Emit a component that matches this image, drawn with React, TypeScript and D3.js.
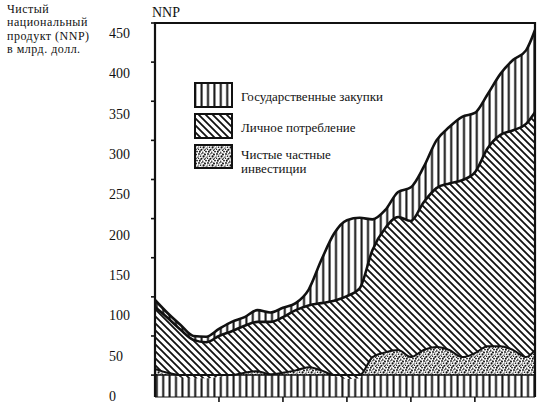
import React from "react";
import * as d3 from "d3";

// ---- data, billions of dollars ----
const years = [
  1929, 1930, 1931, 1932, 1933, 1934, 1935, 1936, 1937, 1938,
  1939, 1940, 1941, 1942, 1943, 1944, 1945, 1946, 1947, 1948,
  1949, 1950, 1951, 1952, 1953, 1954, 1955, 1956, 1957, 1958, 1958.7,
];
const investment = [
  8, 3, -3, -4, -4, -2, 0, 3, 5, 1,
  3, 6, 10, 6, -1, -5, -4, 23, 29, 32,
  23, 32, 36, 32, 23, 28, 37, 37, 32, 23, 32,
];
const consumption = [
  79, 70, 61, 49, 46, 52, 56, 60, 63, 67,
  71, 77, 79, 86, 96, 106, 115, 137, 159, 170,
  174, 189, 203, 213, 226, 231, 253, 270, 281, 298, 304,
];
const government = [
  9, 6, 6, 5, 7, 9, 12, 11, 15, 12,
  12, 9, 20, 55, 86, 97, 90, 39, 23, 32,
  43, 45, 61, 72, 81, 76, 69, 78, 90, 94, 105,
];
const yTicks = [0, 50, 100, 150, 200, 250, 300, 350, 400, 450];
const xTicks = [1934, 1939, 1944, 1949, 1954];
const yTitle = ["Чистый", "национальный", "продукт (NNP)", "в млрд. долл."];
const legendItems = [
  { key: "gov", lines: ["Государственные закупки"] },
  { key: "cons", lines: ["Личное потребление"] },
  { key: "inv", lines: ["Чистые частные", "инвестиции"] },
];
const bandBottom = -28;

// stipple dots for the investment texture (tile 9x9)
const stippleDots = [
  [1, 1, 0.9], [4, 0.6, 0.7], [7, 1.6, 1.0], [2.5, 3.2, 0.8], [5.6, 3.4, 1.1],
  [8.2, 4.2, 0.6], [0.6, 5.2, 0.7], [3.4, 5.8, 1.0], [6.6, 6.2, 0.8], [1.8, 7.8, 1.0],
  [4.8, 8.2, 0.7], [8, 7.6, 0.9], [3, 1.8, 0.5], [6, 0.2, 0.5], [7.6, 5.6, 0.5],
  [0.3, 3, 0.6], [5, 5, 0.5], [2.2, 6.6, 0.5],
];

const W = 539;
const H = 406;
const left = 155;
const right = 535;
const top = 23;
const bottom = 397;

type Row = { year: number; inv: number; consTop: number; total: number };

export default function App() {
  const rows: Row[] = years.map((yr, i) => {
    const inv = investment[i];
    const consTop = inv + consumption[i];
    return { year: yr, inv, consTop, total: consTop + government[i] };
  });

  const x = d3.scaleLinear().domain([years[0], years[years.length - 1]]).range([left, right]);
  const y = d3.scaleLinear().domain([bandBottom, 450]).range([bottom, top]);
  const labelY = d3.scaleLinear().domain([0, 450]).range([396, 33]);

  const curve = d3.curveMonotoneX;
  const govArea = d3.area<Row>().x((d) => x(d.year)).y0((d) => y(d.consTop)).y1((d) => y(d.total)).curve(curve);
  const consArea = d3.area<Row>().x((d) => x(d.year)).y0((d) => y(d.inv)).y1((d) => y(d.consTop)).curve(curve);
  const invArea = d3.area<Row>().x((d) => x(d.year)).y0(() => y(0)).y1((d) => y(Math.max(0, d.inv))).curve(curve);
  const totalLine = d3.line<Row>().x((d) => x(d.year)).y((d) => y(d.total)).curve(curve);
  const consLine = d3.line<Row>().x((d) => x(d.year)).y((d) => y(d.consTop)).curve(curve);
  const invLine = d3.line<Row>().x((d) => x(d.year)).y((d) => y(Math.max(d.inv, 0))).curve(curve);

  const font = "'Liberation Serif', 'DejaVu Serif', serif";
  const ink = "#111";

  const fills: Record<string, string> = {
    gov: "url(#pGov)",
    cons: "url(#pCons)",
    inv: "url(#pInv)",
  };
  const legendBoxes = [
    { y0: 83, y1: 107, textY: [101] },
    { y0: 114, y1: 138, textY: [132] },
    { y0: 145, y1: 168, textY: [159, 173] },
  ];

  return (
    <svg
      width={W}
      height={H}
      viewBox={`0 0 ${W} ${H}`}
      style={{ position: "absolute", left: 0, top: 0, background: "#fff" }}
    >
      <defs>
        <pattern id="pGov" patternUnits="userSpaceOnUse" width={6.4} height={10}>
          <rect width={6.4} height={10} fill="#fff" />
          <line x1={3.2} y1={-1} x2={3.2} y2={11} stroke={ink} strokeWidth={2} />
        </pattern>
        <pattern id="pCons" patternUnits="userSpaceOnUse" width={7} height={7}>
          <rect width={7} height={7} fill="#fff" />
          <path d="M-1,-1 L8,8 M-1,6 L1,8 M6,-1 L8,1" stroke={ink} strokeWidth={1.8} />
        </pattern>
        <pattern id="pInv" patternUnits="userSpaceOnUse" width={9} height={9}>
          <rect width={9} height={9} fill="#fff" />
          {stippleDots.map(([cx, cy, r], i) => (
            <circle key={i} cx={cx} cy={cy} r={r} fill={ink} />
          ))}
        </pattern>
        <clipPath id="plotClip">
          <rect x={left} y={top} width={right - left} height={bottom - top} />
        </clipPath>
      </defs>

      {/* y title */}
      {yTitle.map((t, i) => (
        <text
          key={t}
          x={7}
          y={12.5 + i * 13.5}
          fontFamily={font}
          fontSize={12}
          letterSpacing={0.5}
          fill={ink}
        >
          {t}
        </text>
      ))}
      <text x={152} y={17} fontFamily={font} fontSize={14} fill={ink}>
        NNP
      </text>

      {/* y tick labels */}
      {yTicks.map((v) => (
        <text key={v} x={109} y={labelY(v)} dy="0.35em" fontFamily={font} fontSize={14} fill={ink}>
          {v}
        </text>
      ))}

      <g clipPath="url(#plotClip)">
        {/* bottom band */}
        <rect
          x={left}
          y={y(0)}
          width={right - left}
          height={y(bandBottom) - y(0)}
          fill="url(#pGov)"
        />
        <path d={govArea(rows) || ""} fill="url(#pGov)" />
        <path d={consArea(rows) || ""} fill="url(#pCons)" />
        <path d={invArea(rows) || ""} fill="url(#pInv)" />
        <line x1={left} x2={right} y1={y(0)} y2={y(0)} stroke={ink} strokeWidth={1.5} />
        <path d={invLine(rows) || ""} fill="none" stroke={ink} strokeWidth={2} />
        <path d={consLine(rows) || ""} fill="none" stroke={ink} strokeWidth={2.6} />
        <path d={totalLine(rows) || ""} fill="none" stroke={ink} strokeWidth={2.6} />
      </g>

      {/* frame */}
      <path
        d={`M${left},${bottom} L${left},${top} L${right},${top} L${right},${bottom}`}
        fill="none"
        stroke={ink}
        strokeWidth={2.2}
      />
      <line x1={left} x2={right} y1={bottom} y2={bottom} stroke={ink} strokeWidth={1} />

      {/* y ticks */}
      {yTicks.map((v) => (
        <line key={v} x1={left - 4} x2={left} y1={y(v)} y2={y(v)} stroke={ink} strokeWidth={1.6} />
      ))}
      {/* x ticks */}
      {xTicks.map((v) => (
        <line key={v} x1={x(v)} x2={x(v)} y1={bottom} y2={bottom + 5} stroke={ink} strokeWidth={1.6} />
      ))}

      {/* legend */}
      {legendItems.map((it, i) => {
        const b = legendBoxes[i];
        return (
          <g key={it.key}>
            <rect x={195} y={b.y0} width={37} height={b.y1 - b.y0} fill={fills[it.key]} stroke={ink} strokeWidth={2} />
            {it.lines.map((ln, j) => (
              <text key={ln} x={241} y={b.textY[j]} fontFamily={font} fontSize={13} fill={ink}>
                {ln}
              </text>
            ))}
          </g>
        );
      })}
    </svg>
  );
}
